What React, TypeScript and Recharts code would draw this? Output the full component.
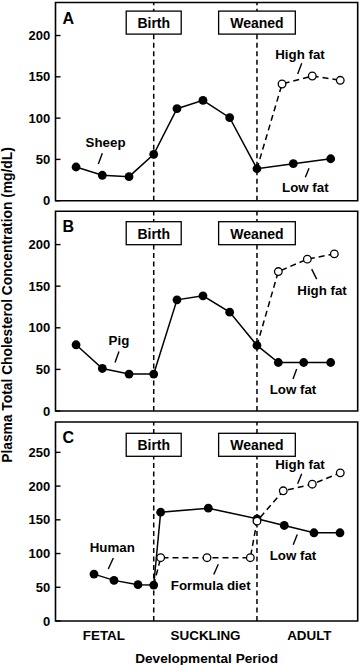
import React from 'react'
import { LineChart, Line, XAxis, YAxis, ReferenceLine, ReferenceArea, ReferenceDot } from 'recharts'

const BIRTH = 9.75
const WEANED = 20

// A: sheep
const sheepX = [2.04, 4.65, 7.3, 9.75, 12.06, 14.64, 17.29, 20, 23.61, 27.32]
const sheepY = [40.8, 30.8, 29.1, 56.2, 111.4, 121.5, 100.5, 38.7, 44.8, 50.8]
const sheepHighFatX = [20, 22.49, 25.49, 28.27]
const sheepHighFatY = [38.7, 141.3, 151, 145.8]

// B: pig
const pigX = [2.04, 4.65, 7.3, 9.75, 12.06, 14.64, 17.29, 20, 22.12, 24.64, 27.32]
const pigY = [79.6, 51.1, 44.4, 44.4, 133.6, 138.4, 118.8, 78.8, 58.3, 58.3, 58.3]
const pigHighFatX = [20, 22.12, 25, 27.68]
const pigHighFatY = [78.8, 167.6, 182.5, 188.8]

// C: human (formula diet runs into high fat after weaning)
const humanX = [3.82, 5.81, 8.19, 9.75, 10.44, 15.17, 20, 22.71, 25.66, 28.24]
const humanY = [69.5, 60.2, 53.8, 53.3, 161.2, 167.2, 151.5, 141.6, 130.8, 130.8]
const formulaX = [9.75, 10.44, 15.04, 19.34, 20, 22.61, 25.49, 28.27]
const formulaY = [53.3, 93.8, 93.8, 93.8, 148, 193, 202.8, 219.6]

const ticksAB = [0, 50, 100, 150, 200]
const ticksC = [0, 50, 100, 150, 200, 250]
const rightTicksAB = [1, 2, 3, 4, 5]

const periods = ['FETAL', 'SUCKLING', 'ADULT']
const periodPos = [4.8, 14.9, 25.2]

const sheepNotes = [
  { text: 'Sheep', x: 4.97, y: 70.2, seg: [4.65, 57.4, 4.25, 44.4] },
  { text: 'High fat', x: 24.27, y: 177.6, seg: [24.44, 166.3, 24.04, 153.4] },
  { text: 'Low fat', x: 24.8, y: 15.7, seg: [25.17, 39.2, 24.8, 28.3] },
]
const pigNotes = [
  { text: 'Pig', x: 6.3, y: 84.4, seg: [6.3, 71.5, 5.91, 58.3] },
  { text: 'High fat', x: 26.46, y: 145.6, seg: [25.43, 170.5, 25.93, 158.5] },
  { text: 'Low fat', x: 23.58, y: 25.9, seg: [23.94, 50.4, 23.58, 38.4] },
]
const humanNotes = [
  { text: 'Human', x: 5.64, y: 108.7, seg: [5.74, 93.5, 5.24, 77.2] },
  { text: 'Formula diet', x: 15.41, y: 53, seg: [16.16, 84, 15.71, 68.8] },
  { text: 'High fat', x: 24.27, y: 232.5, seg: [24.44, 218.2, 24.04, 203.4] },
  { text: 'Low fat', x: 23.58, y: 97.9, seg: [24.0, 128.4, 23.6, 113] },
]

const zip = (xs: number[], ys: number[]) => xs.map((x, i) => ({ x, y: ys[i] }))

function BoxLabel(props: any) {
  const { viewBox, text, w, top } = props
  const x = viewBox.x
  const y = viewBox.y + top
  return (
    <g>
      <rect x={x - w / 2} y={y} width={w} height={23} fill="#fff" stroke="#000" strokeWidth={1.3} />
      <text x={x} y={y + 12} textAnchor="middle" dominantBaseline="central" fontSize={14} fill="#000">
        {text}
      </text>
    </g>
  )
}

function OpenDot(props: any) {
  const { cx, cy, index } = props
  if (index === 0) return <g key={`o${index}`} />
  return <circle key={`o${index}`} cx={cx} cy={cy} r={3.8} fill="#fff" stroke="#000" strokeWidth={1.3} />
}

interface PanelProps {
  letter: string
  solid: { x: number; y: number }[]
  dashed: { x: number; y: number }[]
  yMax: number
  yTicks: number[]
  rightDomain: [number, number]
  rightTicks: number[]
  boxTop: number
  notes: typeof sheepNotes
  height: number
  top: number
  bottom: number
  showX?: boolean
}

function Panel({ letter, solid, dashed, yMax, yTicks, rightDomain, rightTicks, boxTop, notes, height, top, bottom, showX }: PanelProps) {
  return (
    <LineChart width={360} height={height} margin={{ top, right: 1.3, bottom, left: 0 }}>
      <XAxis
        type="number"
        dataKey="x"
        domain={[0, 30]}
        ticks={periodPos}
        interval={0}
        tickFormatter={(v: number) => periods[periodPos.indexOf(v)] ?? ''}
        tick={showX ? { fill: '#000', fontSize: 13.4 } : false}
        tickLine={false}
        axisLine={false}
        tickSize={0}
        tickMargin={9}
        height={showX ? 44 : 0}
        label={showX ? { value: 'Developmental Period', position: 'insideBottom', offset: 2.3, fill: '#000', fontSize: 13.6 } : undefined}
      />
      <YAxis
        yAxisId="l"
        type="number"
        domain={[0, yMax]}
        ticks={yTicks}
        interval={0}
        width={55.5}
        axisLine={false}
        tickSize={-5}
        tickMargin={10.2}
        tickLine={{ stroke: '#000', strokeWidth: 1.4 }}
        tick={{ fill: '#000', fontSize: 13 }}
      />
      <YAxis
        yAxisId="r"
        orientation="right"
        type="number"
        domain={rightDomain}
        ticks={rightTicks}
        interval={0}
        width={1}
        axisLine={false}
        tick={false}
        tickSize={-6}
        tickLine={{ stroke: '#000', strokeWidth: 1.4 }}
      />
      <ReferenceArea yAxisId="l" x1={0} x2={30} y1={0} y2={yMax} fill="none" stroke="#000" strokeWidth={1.6} />
      <ReferenceLine
        yAxisId="l"
        x={BIRTH}
        stroke="#000"
        strokeWidth={1.5}
        strokeDasharray="5 3.5"
        label={(p: any) => <BoxLabel {...p} text="Birth" w={55} top={boxTop} />}
      />
      <ReferenceLine
        yAxisId="l"
        x={WEANED}
        stroke="#000"
        strokeWidth={1.5}
        strokeDasharray="5 3.5"
        label={(p: any) => <BoxLabel {...p} text="Weaned" w={76.7} top={boxTop} />}
      />
      {notes.map((n) => (
        <ReferenceLine
          key={`s${n.text}`}
          yAxisId="l"
          segment={[{ x: n.seg[0], y: n.seg[1] }, { x: n.seg[2], y: n.seg[3] }]}
          stroke="#000"
          strokeWidth={1.4}
        />
      ))}
      {notes.map((n) => (
        <ReferenceDot
          key={`t${n.text}`}
          yAxisId="l"
          x={n.x}
          y={n.y}
          r={0}
          fill="none"
          stroke="none"
          label={{ value: n.text, position: 'center', fill: '#000', fontSize: 13.3 }}
        />
      ))}
      <Line
        yAxisId="l"
        data={solid}
        dataKey="y"
        type="linear"
        stroke="#000"
        strokeWidth={1.5}
        dot={{ r: 4.4, fill: '#000', stroke: '#000', strokeWidth: 0 }}
        isAnimationActive={false}
      />
      <Line
        yAxisId="l"
        data={dashed}
        dataKey="y"
        type="linear"
        stroke="#000"
        strokeWidth={1.5}
        strokeDasharray="6 4"
        dot={OpenDot}
        isAnimationActive={false}
      />
      <text x={62.5} y={top + 21} fontSize={16} fill="#000">
        {letter}
      </text>
    </LineChart>
  )
}

export default function App() {
  return (
    <div
      style={{
        position: 'absolute',
        left: 0,
        top: 0,
        width: 360,
        height: 665,
        background: '#fff',
        fontFamily: '"Liberation Sans", Arial, sans-serif',
        fontWeight: 'bold',
      }}
    >
      <div style={{ position: 'absolute', left: 0, top: 0 }}>
        <Panel
          letter="A"
          solid={zip(sheepX, sheepY)}
          dashed={zip(sheepHighFatX, sheepHighFatY)}
          yMax={240}
          yTicks={ticksAB}
          rightDomain={[-0.07, 5.72]}
          rightTicks={rightTicksAB}
          boxTop={8.6}
          notes={sheepNotes}
          height={213}
          top={2.5}
          bottom={12.3}
        />
      </div>
      <div style={{ position: 'absolute', left: 0, top: 209 }}>
        <Panel
          letter="B"
          solid={zip(pigX, pigY)}
          dashed={zip(pigHighFatX, pigHighFatY)}
          yMax={240}
          yTicks={ticksAB}
          rightDomain={[-0.07, 5.77]}
          rightTicks={rightTicksAB}
          boxTop={10.4}
          notes={pigNotes}
          height={214}
          top={2.3}
          bottom={12}
        />
      </div>
      <div style={{ position: 'absolute', left: 0, top: 419 }}>
        <Panel
          letter="C"
          solid={zip(humanX, humanY)}
          dashed={zip(formulaX, formulaY)}
          yMax={295}
          yTicks={ticksC}
          rightDomain={[0, 295]}
          rightTicks={ticksC.slice(1)}
          boxTop={11.3}
          notes={humanNotes}
          height={246}
          top={3}
          bottom={0}
          showX
        />
      </div>
      <svg width={30} height={665} style={{ position: 'absolute', left: 0, top: 0 }}>
        <text
          x={7}
          y={305}
          transform="rotate(-90, 7, 305)"
          textAnchor="middle"
          dominantBaseline="central"
          fontSize={13.8}
          fill="#000"
        >
          Plasma Total Cholesterol Concentration (mg/dL)
        </text>
      </svg>
    </div>
  )
}
